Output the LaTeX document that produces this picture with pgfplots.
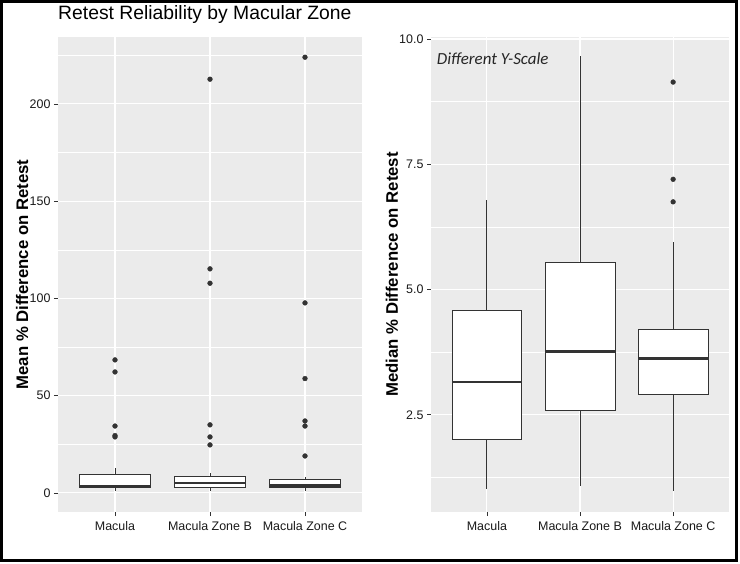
\documentclass[border=0pt]{standalone}
\usepackage{pgfplots}
\pgfplotsset{compat=1.18}
\usepgfplotslibrary{statistics}
\usepackage{fontspec}
\setmainfont{Liberation Sans}
\newfontfamily\carlito{Carlito}
\definecolor{panelbg}{HTML}{EBEBEB}
\definecolor{boxline}{HTML}{333333}

\pgfplotsset{
  gg/.style={
    scale only axis,
    anchor=south west,
    axis background/.style={fill=panelbg},
    axis line style={draw=none},
    xmin=0.4, xmax=3.6,
    xtick={1,2,3},
    xticklabels={Macula, Macula Zone B, Macula Zone C},
    tick pos=left,
    tick align=outside,
    major tick length=4bp,
    minor tick length=0pt,
    tick style={color=boxline, line width=0.6bp},
    xmajorgrids, ymajorgrids, yminorgrids,
    major grid style={white, line width=1.1bp},
    minor grid style={white, line width=0.55bp},
    /pgf/number format/assume math mode=true,
    ticklabel style={font=\fontsize{12.5}{14}\selectfont, color=black!90},
    xticklabel style={yshift=-2bp},
    ylabel style={font=\bfseries\fontsize{16.8}{19}\selectfont, anchor=center},
  },
  ggbox/.style={draw=boxline, fill=white, line width=0.8bp, solid,
    boxplot/draw direction=y,
    boxplot/box extend=0.75, boxplot/whisker extend=0,
    boxplot/every median/.style={line width=2.4bp}},
  ggout/.style={only marks, mark=*, color=boxline, mark size=2.4bp},
}

\begin{document}
\begin{tikzpicture}
\useasboundingbox (0,0) rectangle (740bp,564bp);
\draw[line width=3bp] (1.5bp,3.5bp) rectangle (736bp,562.5bp);

% Left panel: mean % difference
\begin{axis}[gg,
  at={(58bp,52bp)}, width=304bp, height=475bp,
  ymin=-9.8, ymax=234.4,
  ytick={0,50,100,150,200},
  minor ytick={25,75,125,175,225},
  ylabel={Mean \% Difference on Retest},
  ylabel style={at={(axis description cs:-0.118,0.5)}},
  title={Retest Reliability by Macular Zone},
  title style={at={(axis description cs:0,1)}, anchor=base west, yshift=12bp,
    inner sep=0pt, font=\fontsize{19.4}{22}\selectfont},
]
\addplot[ggbox, boxplot prepared={draw position=1, lower whisker=0.8,
  lower quartile=2.6, median=3.7, upper quartile=9.3, upper whisker=12.9}] coordinates {};
\addplot[ggbox, boxplot prepared={draw position=2, lower whisker=1.0,
  lower quartile=3.1, median=5.1, upper quartile=8.7, upper whisker=10.0}] coordinates {};
\addplot[ggbox, boxplot prepared={draw position=3, lower whisker=0.9,
  lower quartile=3.0, median=3.8, upper quartile=7.2, upper whisker=8.0}] coordinates {};
\addplot[ggout] coordinates {
  (1,68.4) (1,62.2) (1,34.4) (1,29.5) (1,28.8)
  (2,212.7) (2,115.2) (2,107.8) (2,35.0) (2,28.8) (2,24.7)
  (3,224.0) (3,97.7) (3,58.8) (3,37.0) (3,34.4) (3,19.0)
};
\end{axis}

% Right panel: median % difference
\begin{axis}[gg,
  at={(431bp,52bp)}, width=298bp, height=475bp,
  ymin=0.56, ymax=10.04,
  ytick={2.5,5,7.5,10},
  yticklabels={2.5,5.0,7.5,10.0},
  minor ytick={1.25,3.75,6.25,8.75},
  ylabel={Median \% Difference on Retest},
  ylabel style={at={(axis description cs:-0.131,0.5)}},
]
\addplot[ggbox, boxplot prepared={draw position=1, lower whisker=1.02,
  lower quartile=2.0, median=3.16, upper quartile=4.58, upper whisker=6.79}] coordinates {};
\addplot[ggbox, boxplot prepared={draw position=2, lower whisker=1.08,
  lower quartile=2.58, median=3.76, upper quartile=5.55, upper whisker=9.66}] coordinates {};
\addplot[ggbox, boxplot prepared={draw position=3, lower whisker=0.98,
  lower quartile=2.9, median=3.62, upper quartile=4.2, upper whisker=5.95}] coordinates {};
\addplot[ggout] coordinates {(3,9.14) (3,7.2) (3,6.75)};
\node[anchor=base west, inner sep=0pt, text=black!85,
  font=\carlito\itshape\fontsize{17}{20}\selectfont] at (rel axis cs:0.019,0.9425) {Different Y-Scale};
\end{axis}
\end{tikzpicture}
\end{document}
